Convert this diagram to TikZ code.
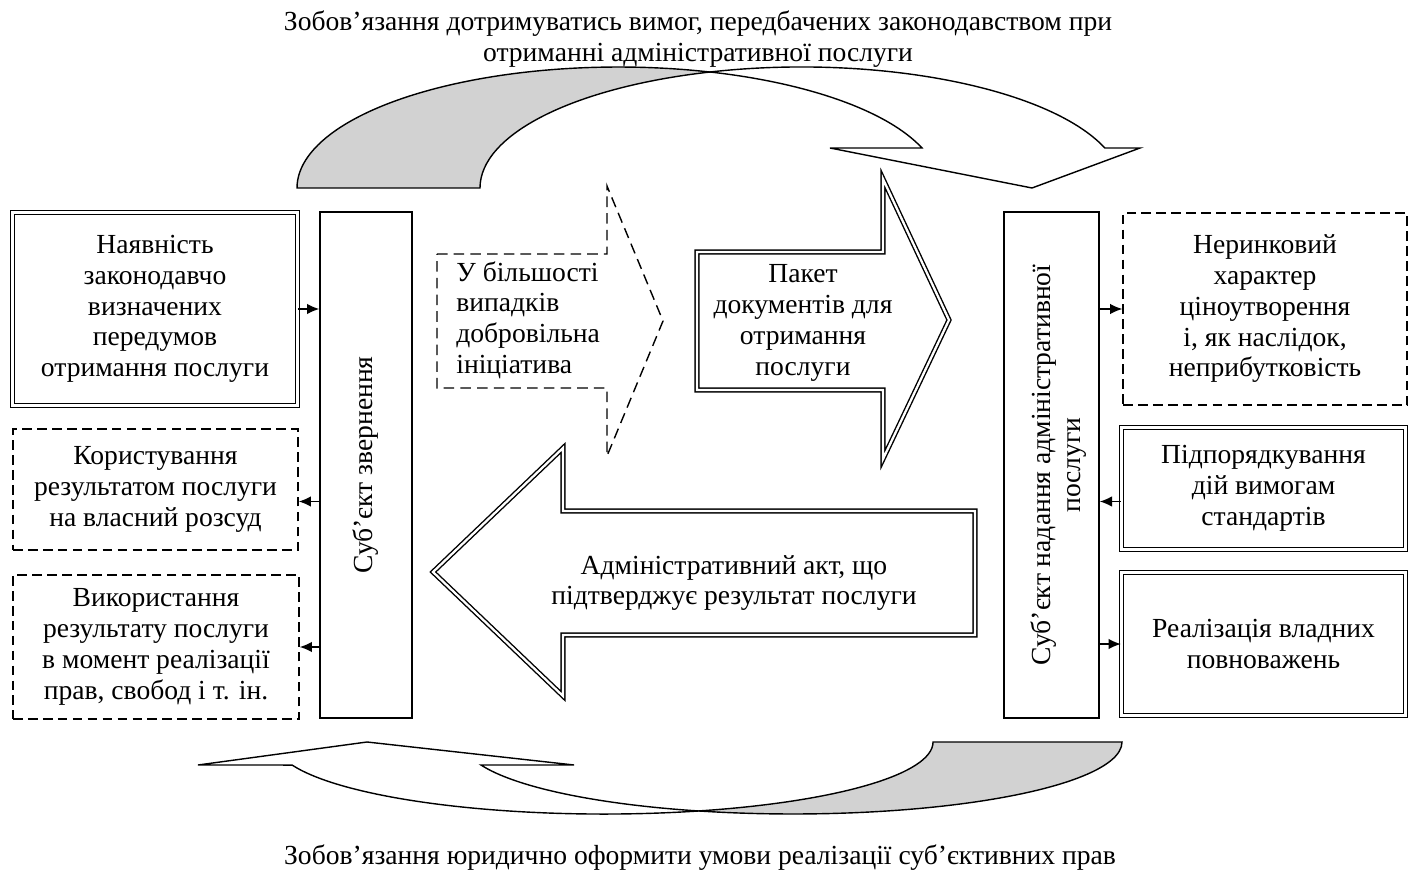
\documentclass[tikz,border=0pt]{standalone}
\usepackage{fontspec}
\setmainfont{Liberation Serif}
\usetikzlibrary{arrows.meta,positioning,calc}

\begin{document}
\begin{tikzpicture}[x=0.02cm, y=0.02cm,
            txt/.style={align=center, font=\fontsize{15.7}{17.5}\selectfont},
            dbox/.style={draw, double, double distance=1.3pt, line width=0.8pt, txt, inner sep=0pt},
            dashbox/.style={draw, line width=0.8pt, dash pattern=on 5.5pt off 3pt, txt, inner sep=0pt},
            subjbox/.style={draw, line width=0.8pt, inner sep=0pt, minimum height=10.12cm},
            conn/.style={line width=0.8pt, -{Latex[length=7pt,width=6pt]}},
            bigarrow/.style={draw, double, double distance=1.3pt, line width=0.8pt, line join=miter},
            curveline/.style={draw, line width=0.8pt},
            curvefill/.style={curveline, fill=gray!35}]
        \useasboundingbox (0,0) rectangle (1415,876);

        \node[txt] (zobovTop) at (698,837) {Зобов’язання дотримуватись вимог, передбачених законодавством при\\отриманні адміністративної послуги};
        \node[txt] (zobovBot) at (700,18) {Зобов’язання юридично оформити умови реалізації суб’єктивних прав};

        % upper curved arrow
        \filldraw[curvefill] (297,688) arc[start angle=180, end angle=73.46, x radius=6.43cm, y radius=2.42cm]
            arc[start angle=106.54, end angle=180, x radius=6.43cm, y radius=2.42cm] -- cycle;
        \draw[curveline] (710,804) arc[start angle=106.54, end angle=19.30, x radius=6.43cm, y radius=2.42cm]
            -- (1140,728) -- (1032,688) -- (830,728) -- (922,728)
            arc[start angle=19.30, end angle=73.46, x radius=6.43cm, y radius=2.42cm] -- cycle;

        % lower curved arrow
        \filldraw[curvefill] (1122,134) arc[start angle=0, end angle=-106.69, x radius=6.582cm, y radius=1.44cm]
            arc[start angle=-73.31, end angle=0, x radius=6.582cm, y radius=1.44cm] -- cycle;
        \draw[curveline] (698.4,65) arc[start angle=-73.31, end angle=-161.37, x radius=6.582cm, y radius=1.44cm]
            -- (198,111) -- (367,134) -- (574,111) -- (481,111)
            arc[start angle=-161.37, end angle=-106.69, x radius=6.582cm, y radius=1.44cm] -- cycle;

        \node[dbox, minimum width=5.7cm, minimum height=3.86cm] (nayav) at (155,567)
            {Наявність\\законодавчо\\визначених\\передумов\\отримання послуги};
        \node[dashbox, minimum width=5.7cm, minimum height=2.42cm] (koryst) at (155.5,386.5)
            {Користування\\результатом послуги\\на власний розсуд};
        \node[dashbox, minimum width=5.72cm, minimum height=2.88cm] (vykor) at (156,229)
            {Використання\\результату послуги\\в момент реалізації\\прав, свобод і т. ін.};

        \node[subjbox, minimum width=1.84cm] (zvern) at (366,411) {};
        \node[txt, rotate=90] at (zvern.center) {Суб’єкт звернення};
        \node[subjbox, minimum width=1.9cm] (nadan) at (1051.5,411) {};
        \node[txt, rotate=90] at ([xshift=4pt]nadan.center) {Суб’єкт надання адміністративної\\послуги};

        \node[dashbox, minimum width=5.68cm, minimum height=3.84cm] (nerynk) at (1265,567)
            {Неринковий\\характер\\ціноутворення\\і, як наслідок,\\неприбутковість};
        \node[dbox, minimum width=5.68cm, minimum height=2.44cm] (pidpor) at (1263.5,387.5)
            {Підпорядкування\\дій вимогам\\стандартів};
        \node[dbox, minimum width=5.68cm, minimum height=2.86cm] (realiz) at (1263.5,232)
            {Реалізація владних\\повноважень};

        \draw[conn] (nayav.east) -- (nayav.east -| zvern.west);
        \draw[conn] ($(zvern.west |- koryst.east)+(0,-12)$) -- ($(koryst.east)+(0,-12)$);
        \draw[conn] (zvern.west |- vykor.east) -- (vykor.east);
        \draw[conn] (nadan.east |- nerynk.west) -- (nerynk.west);
        \draw[conn] ($(pidpor.west)+(0,-13)$) -- ($(nadan.east |- pidpor.west)+(0,-13)$);
        \draw[conn] (nadan.east |- realiz.west) -- (realiz.west);

        % arrows in the middle
        \draw[line width=0.8pt, dash pattern=on 6pt off 3.5pt] (437,622) -- (607,622) -- (607,690)
            -- (663,555) -- (607,420) -- (607,488) -- (437,488) -- cycle;
        \node[txt, align=left, anchor=west, inner sep=0pt] (vypad) at (456,556)
            {У більшості\\випадків\\добровільна\\ініціатива};

        \draw[bigarrow] (697,624) -- (883,624) -- (883,697) -- (949,556) -- (883,417) -- (883,486) -- (697,486) -- cycle;
        \node[txt] (paket) at (803,553) {Пакет\\документів для\\отримання\\послуги};

        \draw[bigarrow] (975,365) -- (563,365) -- (563,428) -- (433,304) -- (563,180) -- (563,241) -- (975,241) -- cycle;
        \node[txt] (akt) at (734,293) {Адміністративний акт, що\\підтверджує результат послуги};
\end{tikzpicture}
\end{document}
